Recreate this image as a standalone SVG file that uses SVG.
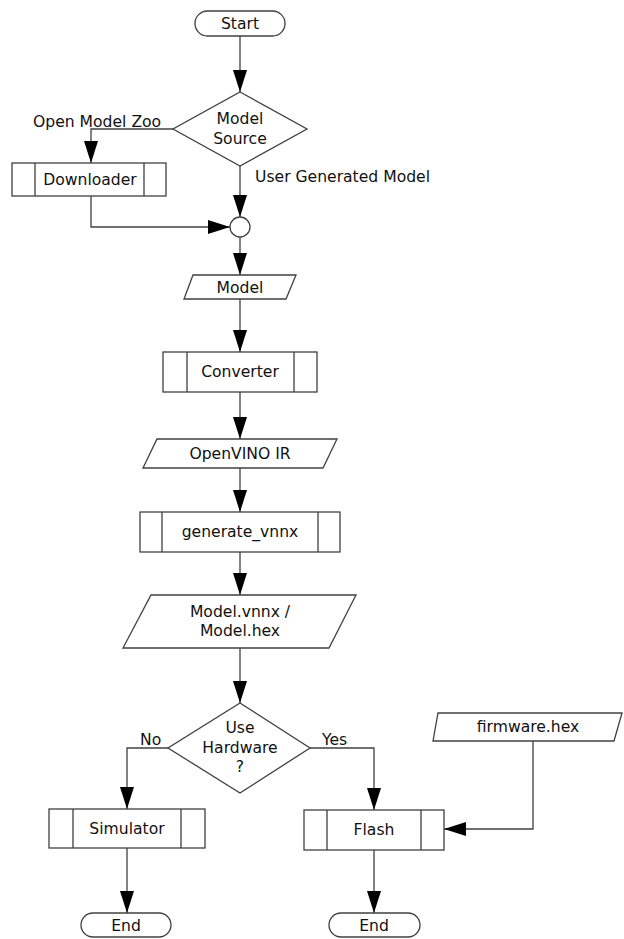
<svg xmlns="http://www.w3.org/2000/svg" width="624" height="939" viewBox="0 0 624 939">
<defs>
<marker id="ah" viewBox="0 0 22 14" refX="22" refY="7" markerWidth="22" markerHeight="14" markerUnits="userSpaceOnUse" orient="auto">
<path d="M0,0 L22,7 L0,14 z" fill="#000"/>
</marker>
<style>
.s{fill:#fff;stroke:#404040;stroke-width:1.3}
.c{fill:none;stroke:#404040;stroke-width:1.3;marker-end:url(#ah)}
.t{font-family:"DejaVu Sans",Verdana,sans-serif;font-size:15.6px;fill:#111;text-anchor:middle}
.l{font-family:"DejaVu Sans",Verdana,sans-serif;font-size:15.6px;fill:#111}
</style>
</defs>
<rect width="624" height="939" fill="#fff"/>
<g id="connectors">
<path class="c" d="M240,36 V92"/>
<path class="c" d="M173,129 H91 V163"/>
<path class="c" d="M240,166 V217"/>
<path class="c" d="M91,196 V227 H230"/>
<path class="c" d="M240,237 V275"/>
<path class="c" d="M240,299 V352"/>
<path class="c" d="M240,392 V439"/>
<path class="c" d="M240,468 V512"/>
<path class="c" d="M240,552 V595"/>
<path class="c" d="M240,648 V703"/>
<path class="c" d="M168,748 H127 V809"/>
<path class="c" d="M310,748 H374 V810"/>
<path class="c" d="M533,741 V829 H444"/>
<path class="c" d="M127,848 V913"/>
<path class="c" d="M374,850 V913"/>
<text class="l" x="33" y="127">Open Model Zoo</text>
<text class="l" x="255" y="182">User Generated Model</text>
<text class="l" x="140" y="745">No</text>
<text class="l" x="322" y="745">Yes</text>
</g>
<g id="start">
<rect class="s" x="195" y="11" width="90" height="25" rx="12.5"/>
<text class="t" x="240" y="29">Start</text>
</g>
<g id="model-source">
<polygon class="s" points="240,92 307,129 240,166 173,129"/>
<text class="t" x="240" y="124">Model</text>
<text class="t" x="240" y="144">Source</text>
</g>
<g id="downloader">
<rect class="s" x="12" y="163" width="154" height="33"/>
<path class="s" d="M35,163 V196 M144,163 V196"/>
<text class="t" x="90" y="185">Downloader</text>
</g>
<g id="junction">
<circle class="s" cx="240" cy="227" r="10"/>
</g>
<g id="model">
<polygon class="s" points="193,275 296,275 286,299 184,299"/>
<text class="t" x="240" y="293">Model</text>
</g>
<g id="converter">
<rect class="s" x="163" y="352" width="154" height="40"/>
<path class="s" d="M187,352 V392 M294,352 V392"/>
<text class="t" x="240" y="377">Converter</text>
</g>
<g id="openvino-ir">
<polygon class="s" points="157,439 337,439 323,468 143,468"/>
<text class="t" x="240" y="459">OpenVINO IR</text>
</g>
<g id="generate-vnnx">
<rect class="s" x="140" y="512" width="200" height="40"/>
<path class="s" d="M162,512 V552 M318,512 V552"/>
<text class="t" x="240" y="537">generate_vnnx</text>
</g>
<g id="model-vnnx">
<polygon class="s" points="151,595 356,595 329,648 123,648"/>
<text class="t" x="240" y="617">Model.vnnx /</text>
<text class="t" x="240" y="636">Model.hex</text>
</g>
<g id="use-hardware">
<polygon class="s" points="240,703 310,748 240,793 168,748"/>
<text class="t" x="240" y="733">Use</text>
<text class="t" x="240" y="753">Hardware</text>
<text class="t" x="240" y="772">?</text>
</g>
<g id="simulator">
<rect class="s" x="49" y="809" width="156" height="39"/>
<path class="s" d="M73,809 V848 M181,809 V848"/>
<text class="t" x="127" y="834">Simulator</text>
</g>
<g id="flash">
<rect class="s" x="304" y="810" width="140" height="40"/>
<path class="s" d="M327,810 V850 M421,810 V850"/>
<text class="t" x="374" y="835">Flash</text>
</g>
<g id="firmware-hex">
<polygon class="s" points="438,713 622,713 614,741 433,741"/>
<text class="t" x="528" y="732">firmware.hex</text>
</g>
<g id="end-left">
<rect class="s" x="81" y="913" width="90" height="24" rx="12"/>
<text class="t" x="126" y="931">End</text>
</g>
<g id="end-right">
<rect class="s" x="329" y="913" width="91" height="24" rx="12"/>
<text class="t" x="374" y="931">End</text>
</g>
</svg>
